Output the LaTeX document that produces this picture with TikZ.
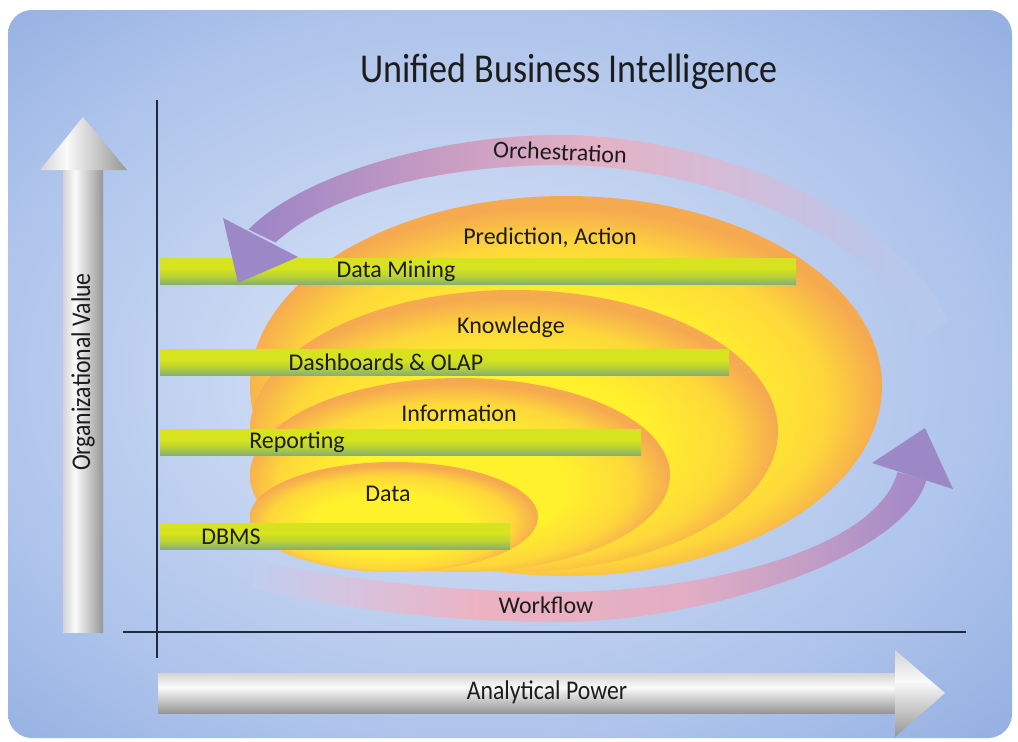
\documentclass[tikz,border=0pt]{standalone}
\usepackage{fontspec}
\setmainfont{Carlito}
\newfontfamily\lblfont{Carlito}
\newfontfamily\condfont[FakeStretch=0.88]{Carlito}

\definecolor{txtc}{HTML}{1C1C1C}
\definecolor{axisc}{HTML}{1E2A3E}
\definecolor{bgc}{HTML}{D2DEF5}
\definecolor{bgm}{HTML}{AEC4EB}
\definecolor{bge}{HTML}{94AFE1}
\definecolor{ylw}{HTML}{FFF22C}
\definecolor{ylwb}{HTML}{FED83A}
\definecolor{orgc}{HTML}{F6AA50}
\definecolor{grt}{HTML}{D6E31E}
\definecolor{grm}{HTML}{B8D236}
\definecolor{grb}{HTML}{88B070}
\definecolor{opurp}{HTML}{9F86C6}
\definecolor{omauve}{HTML}{C89CC2}
\definecolor{opink}{HTML}{E4B2C4}
\definecolor{olav}{HTML}{D0BEDC}
\definecolor{ofade}{HTML}{B6C8EC}
\definecolor{wfade}{HTML}{C0CEF0}
\definecolor{wfp}{HTML}{D8C2DC}
\definecolor{wpink}{HTML}{ECB2C2}
\definecolor{wpink2}{HTML}{E2AEC4}
\definecolor{wmauve}{HTML}{C49EC6}
\definecolor{wpurp}{HTML}{A48AC6}
\definecolor{headc}{HTML}{9C88C6}
\definecolor{arl}{HTML}{D4D4D4}
\definecolor{arw}{HTML}{FAFAFA}
\definecolor{ard}{HTML}{969696}

\pgfdeclareradialshading{bgsh}{\pgfpoint{-3bp}{0bp}}{color(0bp)=(bgc); color(6bp)=(bgc); color(25bp)=(bgm); color(36bp)=(bge); color(50bp)=(bge)}
\pgfdeclareradialshading{ellsh}{\pgfpoint{-1bp}{-4bp}}{color(0bp)=(ylw); color(13bp)=(ylw); color(21bp)=(ylwb); color(25.5bp)=(orgc); color(50bp)=(orgc)}
\pgfdeclareverticalshading{barsh}{100bp}{color(0bp)=(grb); color(25bp)=(grb); color(40bp)=(grm); color(55bp)=(grt); color(100bp)=(grt)}
\pgfdeclarehorizontalshading{orchsh}{100bp}{color(0bp)=(opurp); color(26bp)=(opurp); color(39bp)=(omauve); color(50bp)=(opink); color(61bp)=(olav); color(72bp)=(ofade); color(100bp)=(ofade)}
\pgfdeclarehorizontalshading{worksh}{100bp}{color(0bp)=(wfade); color(25bp)=(wfade); color(33bp)=(wfp); color(42bp)=(wpink); color(57bp)=(wpink2); color(66bp)=(wmauve); color(74bp)=(wpurp); color(100bp)=(wpurp)}
\pgfdeclarehorizontalshading{varrsh}{100bp}{color(0bp)=(arl); color(25bp)=(arl); color(40bp)=(arw); color(75bp)=(ard); color(100bp)=(ard)}
\pgfdeclareverticalshading{harrsh}{100bp}{color(0bp)=(ard); color(25bp)=(ard); color(57bp)=(arw); color(75bp)=(arl); color(100bp)=(arl)}

\tikzset{
  lbl/.style={font=\lblfont\fontsize{24}{28}\selectfont, text=txtc, inner sep=0pt},
  condlbl/.style={font=\condfont\fontsize{27}{31}\selectfont, text=txtc, inner sep=0pt},
  ellfill/.style={shading=ellsh},
  barfill/.style={shading=barsh},
  axisline/.style={draw=axisc, line width=2.2pt},
}

\begin{document}
\begin{tikzpicture}[x=1pt,y=-1pt]
\useasboundingbox (0,0) rectangle (1018,742);
\fill[white] (0,0) rectangle (1018,742);
\path[shading=bgsh, rounded corners=24pt] (8,10) rectangle (1012,738);

% nested ellipses
\path[ellfill] (566,386) ellipse [x radius=316pt, y radius=190pt];
\path[ellfill] (514,431) ellipse [x radius=264pt, y radius=141pt];
\path[ellfill] (460,475) ellipse [x radius=210pt, y radius=97pt];
\path[ellfill] (394,517) ellipse [x radius=144pt, y radius=55pt];

% green bars
\path[barfill] (160,258) rectangle (796,284);
\path[barfill] (160,349) rectangle (729,375);
\path[barfill] (160,429) rectangle (641,455);
\path[barfill] (160,523) rectangle (510,549);

% orchestration band
\path[shading=orchsh] (248.5,229.5) .. controls (305,172) and (445,135) .. (560,135)
   .. controls (715,135) and (905,215) .. (947,321) -- (923,338)
   .. controls (882,235) and (705,165) .. (560,165)
   .. controls (455,165) and (335,188) .. (275.5,242.5) -- cycle;
\fill[headc] (223,218) -- (298,257) -- (238,283) -- cycle;

% workflow band
\path[shading=worksh] (256,561) .. controls (353,580) and (450,592) .. (560,592)
   .. controls (700,592) and (876,551) .. (897.6,472)
   -- (926.4,480) .. controls (904,559) and (700,622) .. (560,622)
   .. controls (450,622) and (347,610) .. (252,588) -- cycle;
\fill[headc] (872,463) -- (925,428) -- (953,489) -- cycle;

% axes
\coordinate (vtop) at (157,100);
\coordinate (vbot) at (157,658);
\coordinate (hleft) at (123,632);
\coordinate (hright) at (966,632);
\draw[axisline] (vtop) -- (vbot);
\draw[axisline] (hleft) -- (hright);

% axis arrows
\path[shading=varrsh] (63,168) rectangle (103,632);
\path[shading=varrsh] (40,170) -- (127,170) -- (83,117) -- cycle;
\path[shading=harrsh] (158,673) rectangle (897,713);
\path[shading=harrsh] (895,650) -- (945,693) -- (895,737) -- cycle;

% texts
\node[condlbl, font=\condfont\fontsize{41}{47}\selectfont] (title) at (569,72) {Unified Business Intelligence};
\node[condlbl, rotate=90] (orgval) at (83,372) {Organizational Value};
\node[condlbl] (anpow) at (547,692) {Analytical Power};
\node[lbl, rotate=-2.5] (orch) at (560,152) {Orchestration};
\node[lbl] (work) at (546,605) {Workflow};
\node[lbl] (pred) at (550,238) {Prediction, Action};
\node[lbl] (dmin) at (396,271) {Data Mining};
\node[lbl] (know) at (511,327) {Knowledge};
\node[lbl] (dash) at (386,362) {Dashboards \& OLAP};
\node[lbl] (info) at (459,413) {Information};
\node[lbl] (rep) at (297,442) {Reporting};
\node[lbl] (data) at (388,494) {Data};
\node[lbl] (dbms) at (231,537) {DBMS};
\end{tikzpicture}
\end{document}
